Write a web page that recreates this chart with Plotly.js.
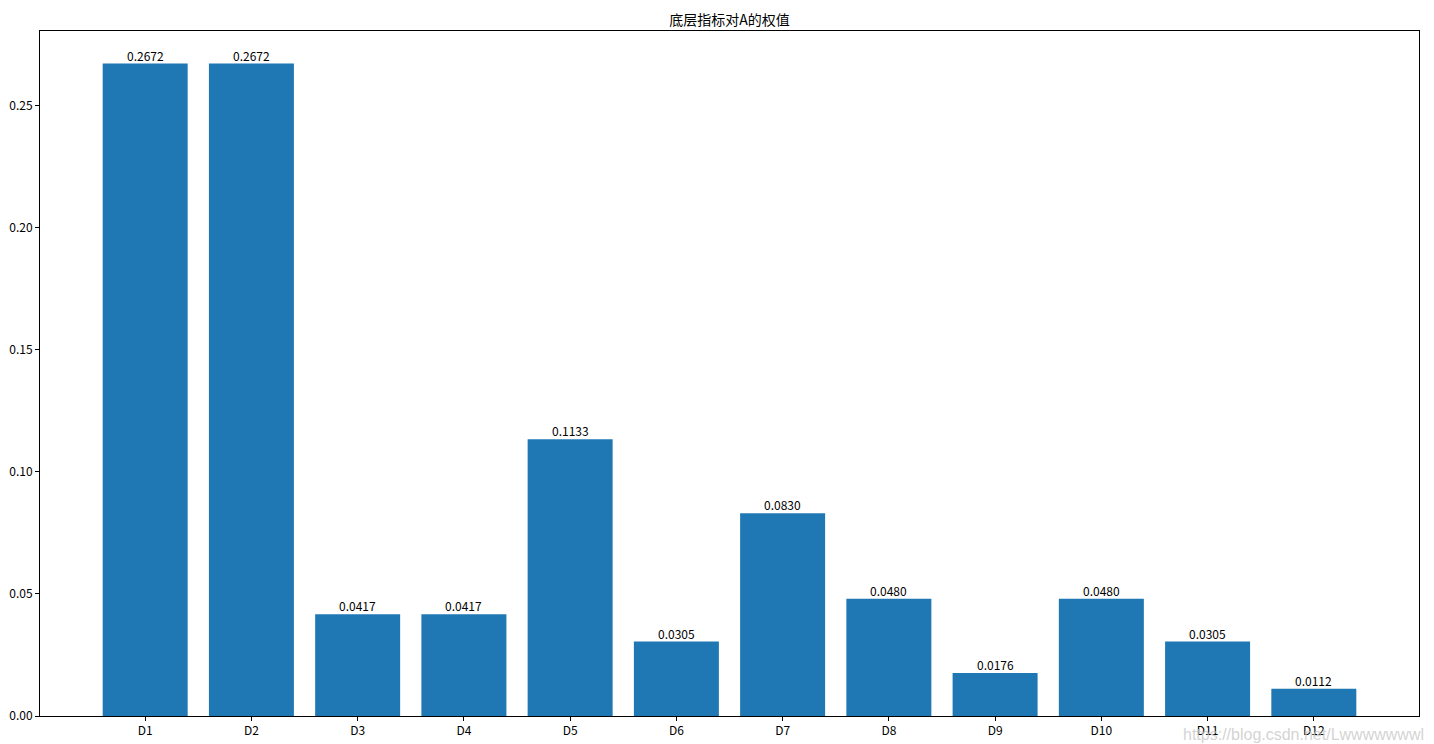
<!DOCTYPE html>
<html>
<head>
<meta charset="utf-8">
<script src="https://cdn.plot.ly/plotly-3.0.1.min.js"></script>
<style>html,body{margin:0;padding:0;background:#fff;}#chart{width:1434px;height:744px;}</style>
</head>
<body>
<div id="chart"></div>
<script>
const categories = ["D1","D2","D3","D4","D5","D6","D7","D8","D9","D10","D11","D12"];
const weights = [0.2672,0.2672,0.0417,0.0417,0.1133,0.0305,0.0830,0.0480,0.0176,0.0480,0.0305,0.0112];
const yTicks = [0,0.05,0.10,0.15,0.20,0.25];
const yTickLabels = ["0.00","0.05","0.10","0.15","0.20","0.25"];
const titleText = "底层指标对A的权值";
const watermark = "https://blog.csdn.net/Lwwwwwwwl";

const font = "SimHei, 'Noto Sans CJK SC', sans-serif";
const xIdx = categories.map((c,i)=>i);
const maxV = Math.max(...weights);

const trace = {
  type: 'bar',
  x: xIdx,
  y: weights,
  width: 0.8,
  marker: {color: '#1f77b4', line: {width: 0}},
  hoverinfo: 'x+y'
};

const labelAnns = weights.map((v, i) => ({
  x: i, y: v, xref: 'x', yref: 'y',
  text: v.toFixed(4), showarrow: false,
  xanchor: 'center', yanchor: 'bottom', borderpad: 0, yshift: -1,
  font: {family: font, size: 12, color: '#000'}
}));

const layout = {
  width: 1434, height: 744,
  margin: {l: 40, r: 15, t: 31, b: 28, pad: 0},
  paper_bgcolor: '#fff', plot_bgcolor: '#fff',
  title: {text: titleText, font: {family: font, size: 14, color: '#000'}, x: 0.5, xref: 'paper', y: 1, yref: 'paper', yanchor: 'bottom', pad: {b: 6}},
  showlegend: false,
  xaxis: {
    range: [-0.99, 11.99],
    tickmode: 'array', tickvals: xIdx, ticktext: categories,
    ticks: 'outside', ticklen: 4, tickcolor: '#000', tickwidth: 1,
    showgrid: false, zeroline: false,
    showline: true, linecolor: '#000', linewidth: 1, mirror: true,
    tickfont: {family: font, size: 12, color: '#000'}
  },
  yaxis: {
    range: [0, maxV * 1.05],
    tickmode: 'array', tickvals: yTicks, ticktext: yTickLabels,
    ticks: 'outside', ticklen: 4, tickcolor: '#000', tickwidth: 1,
    showgrid: false, zeroline: false,
    showline: true, linecolor: '#000', linewidth: 1, mirror: true,
    tickfont: {family: font, size: 12, color: '#000'}
  },
  annotations: labelAnns.concat([{
    text: watermark, xref: 'paper', yref: 'paper', x: 1.005, y: -0.012,
    xanchor: 'right', yanchor: 'top', showarrow: false,
    font: {family: 'Arial, Liberation Sans, sans-serif', size: 16, color: 'rgba(200,200,200,0.8)'}
  }])
};

Plotly.newPlot('chart', [trace], layout, {displayModeBar: false, staticPlot: true});
</script>
</body>
</html>
